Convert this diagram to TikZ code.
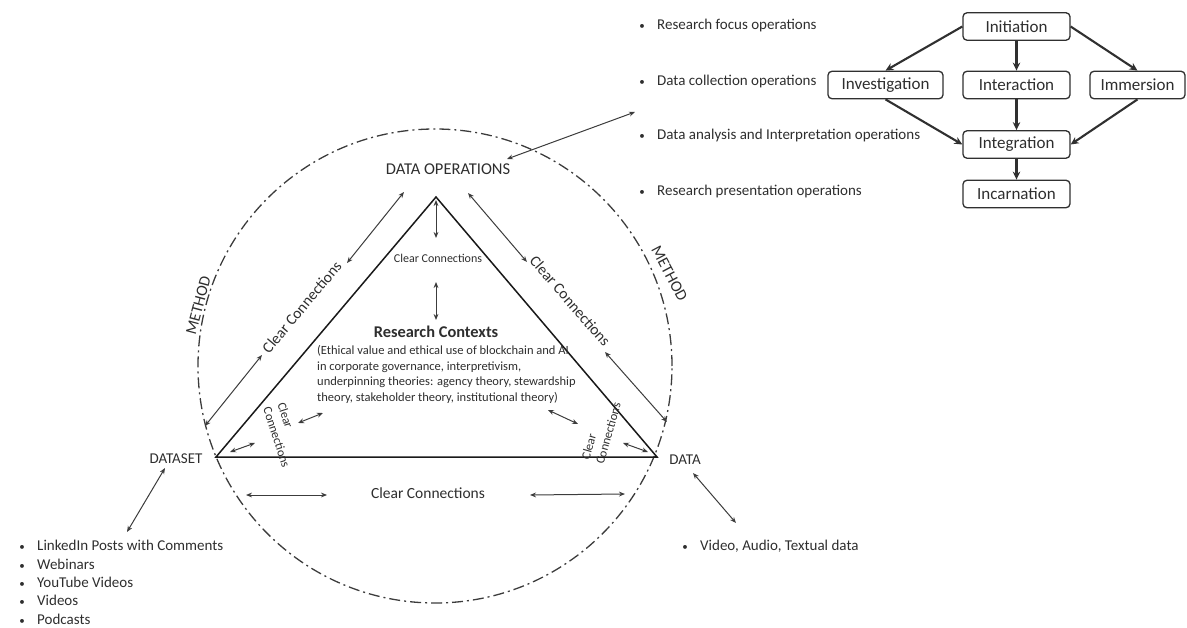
\documentclass[tikz,border=0pt]{standalone}
\usepackage{fontspec}
\setmainfont{Carlito}
\usetikzlibrary{arrows.meta}
\definecolor{txt}{HTML}{2E2E2E}
\definecolor{linec}{HTML}{3C3C3C}
\definecolor{boxc}{HTML}{303030}
\newcommand\fs[1]{\fontsize{#1}{#1}\selectfont}
\begin{document}
\begin{tikzpicture}[x=1pt,y=-1pt,
  lbl/.style={text=txt, inner sep=0pt, anchor=mid},
  link/.style={draw=linec, line width=1pt,
    {Stealth[length=6pt,width=4.8pt]}-{Stealth[length=6pt,width=4.8pt]}},
  flow/.style={draw=boxc, line width=2.1pt, -{Stealth[length=8pt,width=7.5pt]}},
  stage/.style={draw=boxc, line width=1.3pt, rounded corners=4pt,
    minimum height=27.5pt, inner sep=0pt, font=\fs{17}, text=txt},
  item/.style={text=txt, inner sep=0pt, anchor=mid west, font=\fs{15}},
  dot/.style={text=txt, inner sep=0pt, anchor=mid, font=\fs{11}},
]
\useasboundingbox (0,0) rectangle (1187,628);

% ---------- outer METHOD circle ----------
\draw[linec, line width=1.3pt, dash pattern=on 11pt off 4pt on 2pt off 4pt]
  (435,366) circle[radius=237pt];

% ---------- triangle ----------
\coordinate (apex) at (436,197);
\coordinate (vl) at (216,457);
\coordinate (vr) at (657,457);
\draw[black!90, line width=1.5pt, line join=miter] (apex) -- (vl) -- (vr) -- cycle;

% ---------- corner labels ----------
\node[lbl, font=\fs{16.5}] (dops) at (448,172) {DATA OPERATIONS};
\node[lbl, font=\fs{15}] (dset) at (176,461) {DATASET};
\node[lbl, font=\fs{15}] (data) at (685,462) {DATA};

\node[lbl, font=\fs{16}, rotate=75] (mthl) at (201,306) {METHOD};
\node[lbl, font=\fs{16}, rotate=-62] (mthr) at (667,275) {METHOD};

% ---------- labels along the sides ----------
\node[lbl, font=\fs{15.5}, rotate=50] (ccl) at (304,309) {Clear Connections};
\node[lbl, font=\fs{15.5}, rotate=-49] (ccr) at (568,303) {Clear Connections};
\node[lbl, font=\fs{15.5}] (ccb) at (428,496) {Clear Connections};
\node[lbl, font=\fs{12}] (cct) at (438,260) {Clear Connections};
\node[text=txt, inner sep=0pt, font=\fs{12.5}, align=left, rotate=-72,
  execute at begin node=\setlength{\baselineskip}{15pt}] (ccsl) at (284,435) {Clear\\Connections};
\node[text=txt, inner sep=0pt, font=\fs{12.5}, align=left, rotate=74,
  execute at begin node=\setlength{\baselineskip}{15pt}] (ccsr) at (601,431) {Clear\\Connections};

% ---------- research contexts ----------
\node[lbl, font=\bfseries\fs{16.4}] (rc) at (436,335) {Research Contexts};
\node[item, font=\fs{12.5}] (rc1) at (317,352) {(Ethical value and ethical use of blockchain and AI};
\node[item, font=\fs{12.5}] (rc2) at (317,368) {in corporate governance, interpretivism,};
\node[item, font=\fs{12.5}] (rc3) at (317,383) {underpinning theories: agency theory, stewardship};
\node[item, font=\fs{12.5}] (rc4) at (317,399) {theory, stakeholder theory, institutional theory)};

% ---------- two-way connectors ----------
\coordinate (a1) at (507,159);  \coordinate (a2) at (635,112);
\coordinate (b1) at (404,192);  \coordinate (b2) at (347,263);
\coordinate (b3) at (262,355);  \coordinate (b4) at (205,426);
\coordinate (c1) at (468,193);  \coordinate (c2) at (527,262);
\coordinate (c3) at (605,352);  \coordinate (c4) at (667,422);
\coordinate (d1) at (436,200);  \coordinate (d2) at (436,238);
\coordinate (d3) at (436,282);  \coordinate (d4) at (436,320);
\coordinate (e1) at (230,452);  \coordinate (e2) at (255,443);
\coordinate (e3) at (298,423);  \coordinate (e4) at (323,413);
\coordinate (f1) at (548,410);  \coordinate (f2) at (578,424);
\coordinate (f3) at (623,443);  \coordinate (f4) at (648,452);
\coordinate (g1) at (246,495);  \coordinate (g2) at (327,495);
\coordinate (g3) at (530,495);  \coordinate (g4) at (625,494);
\coordinate (h1) at (165,468);  \coordinate (h2) at (127,532);
\coordinate (k1) at (693,473);  \coordinate (k2) at (736,523);
\foreach \p/\q in {a1/a2,b1/b2,b3/b4,c1/c2,c3/c4,d1/d2,d3/d4,e1/e2,e3/e4,
                   f1/f2,f3/f4,g1/g2,g3/g4,h1/h2,k1/k2}
  \draw[link] (\p) -- (\q);

% ---------- operations list ----------
\foreach \y/\t [count=\i] in {27/Research focus operations,
    83/Data collection operations,
    137/Data analysis and Interpretation operations,
    193/Research presentation operations}{
  \node[dot] (ob\i) at (642,\y) {\textbullet};
  \node[item] (ot\i) at (657,\y) {\t};
}

% ---------- dataset list ----------
\foreach \y/\t [count=\i] in {548/LinkedIn Posts with Comments,
    567/Webinars, 585/YouTube Videos, 603/Videos, 622/Podcasts}{
  \node[dot] (sb\i) at (22,\y) {\textbullet};
  \node[item] (st\i) at (37,\y) {\t};
}

% ---------- data list ----------
\node[dot] (db1) at (685,548) {\textbullet};
\node[item] (dt1) at (700,548) {Video, Audio, Textual data};

% ---------- stages flow ----------
\node[stage, minimum width=107pt] (ini) at (1016.5,26.5) {Initiation};
\node[stage, minimum width=115pt] (inv) at (885.5,85) {Investigation};
\node[stage, minimum width=107pt] (ita) at (1016.5,85) {Interaction};
\node[stage, minimum width=95pt]  (imm) at (1137.5,85) {Immersion};
\node[stage, minimum width=107pt] (itg) at (1016.5,144.5) {Integration};
\node[stage, minimum width=107pt] (inc) at (1016.5,194) {Incarnation};

\draw[flow] (ini.west) -- (inv.north);
\draw[flow] (ini) -- (ita);
\draw[flow] (ini.east) -- (imm.north);
\draw[flow] (inv.south) -- (itg.west);
\draw[flow] (ita) -- (itg);
\draw[flow] (imm.south) -- (itg.east);
\draw[flow] (itg) -- (inc);
\end{tikzpicture}
\end{document}
